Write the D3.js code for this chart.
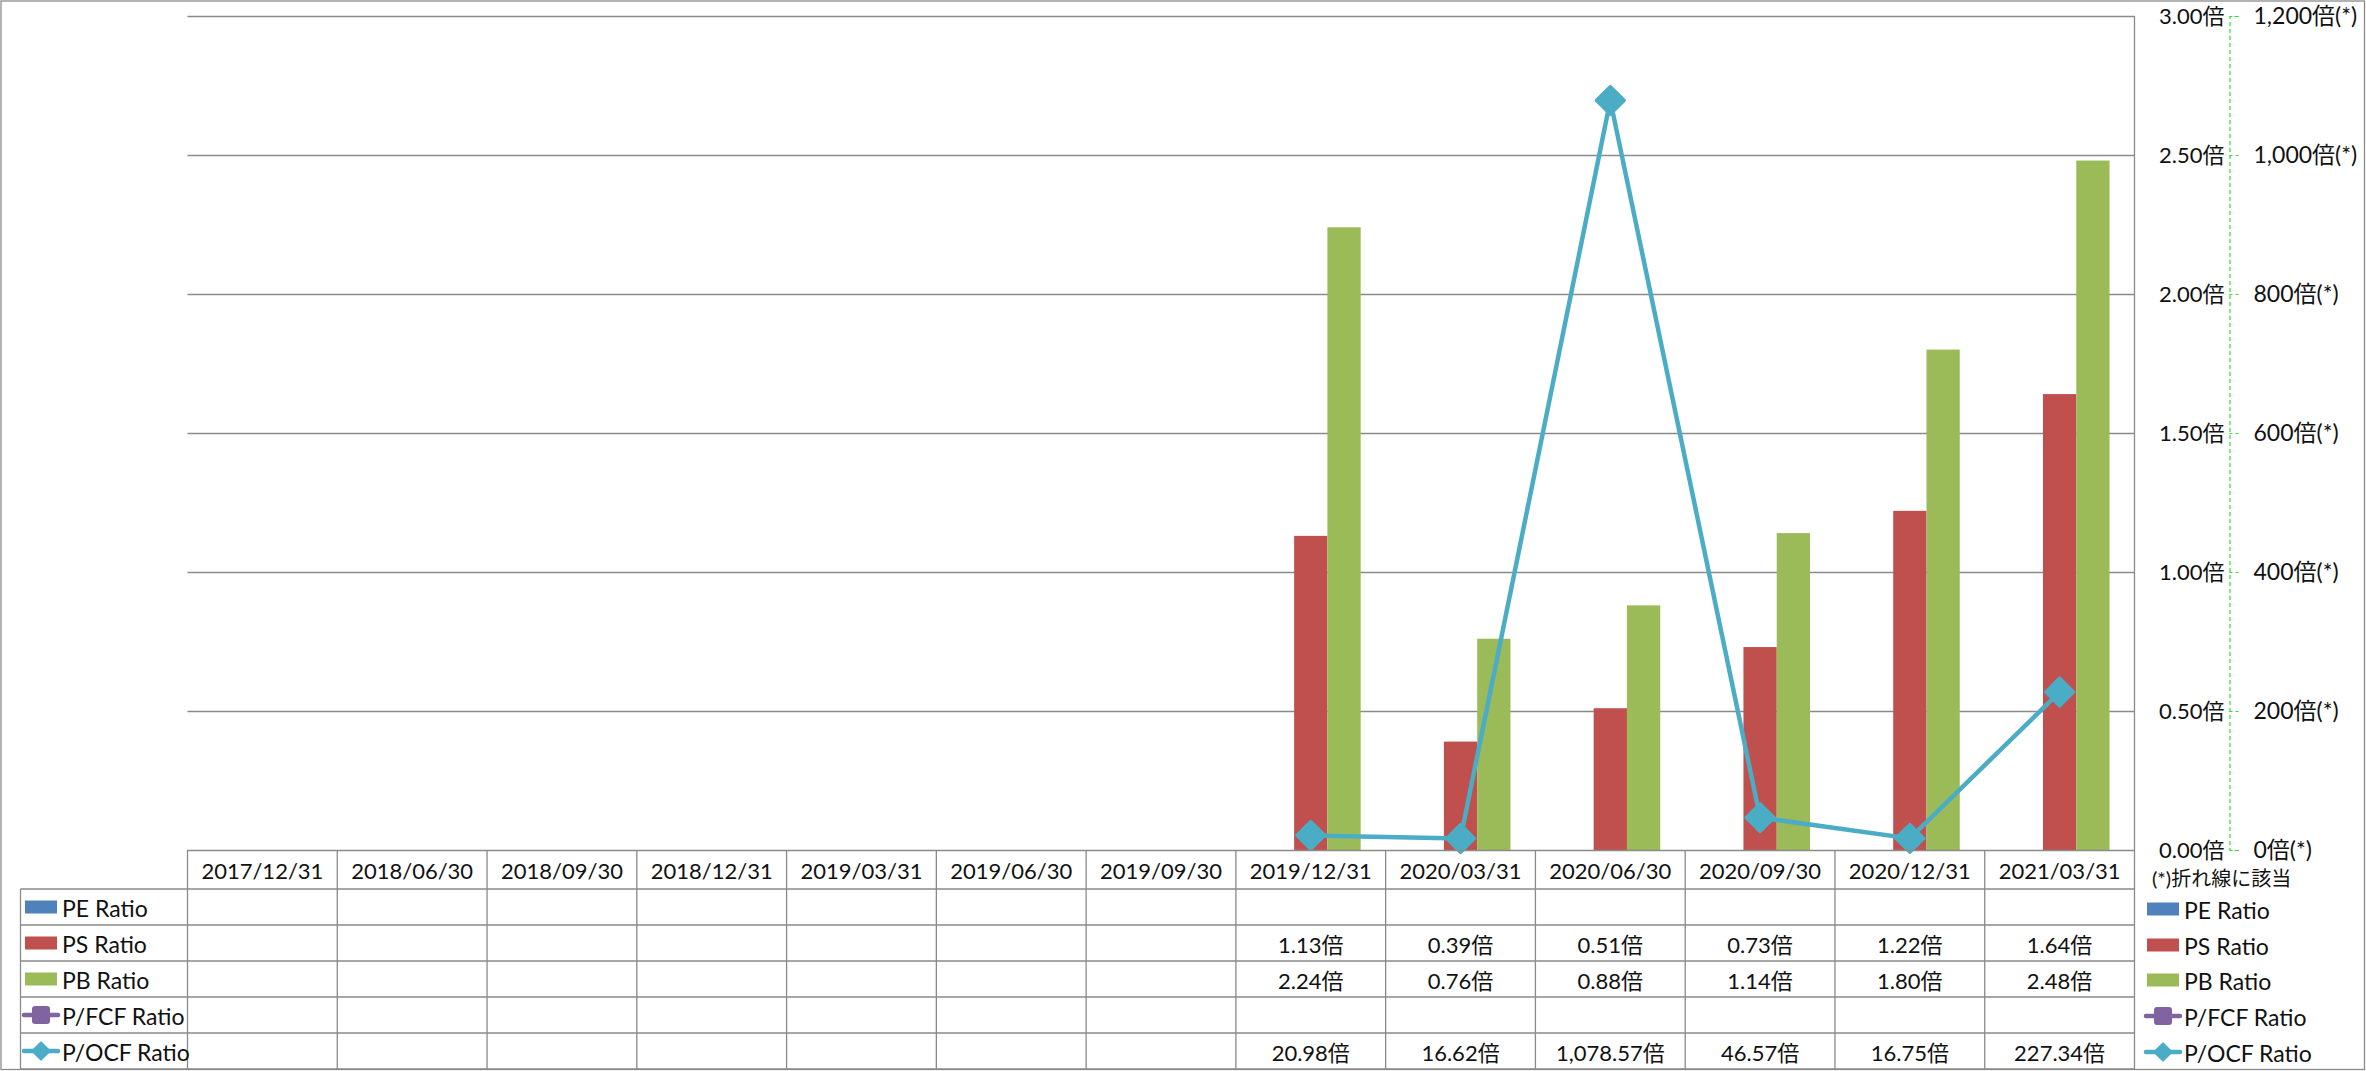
<!DOCTYPE html>
<html>
<head>
<meta charset="utf-8">
<script src="https://cdn.jsdelivr.net/npm/d3@7"></script>
<style>
  html, body { margin: 0; padding: 0; background: #fff; }
  svg { display: block; }
  text { font-family: Lato, "Noto Sans CJK JP", sans-serif; fill: #111; }
</style>
</head>
<body>
<svg id="chart" width="2366" height="1071"></svg>
<script>
// ---- data ----
const categories = ["2017/12/31","2018/06/30","2018/09/30","2018/12/31","2019/03/31","2019/06/30","2019/09/30","2019/12/31","2020/03/31","2020/06/30","2020/09/30","2020/12/31","2021/03/31"];
const peRatio   = [null,null,null,null,null,null,null,null,null,null,null,null,null];
const psRatio   = [null,null,null,null,null,null,null,1.13,0.39,0.51,0.73,1.22,1.64];
const pbRatio   = [null,null,null,null,null,null,null,2.24,0.76,0.88,1.14,1.80,2.48];
const pfcfRatio = [null,null,null,null,null,null,null,null,null,null,null,null,null];
const pocfRatio = [null,null,null,null,null,null,null,20.98,16.62,1078.57,46.57,16.75,227.34];
const leftTicks  = [0,0.5,1,1.5,2,2.5,3];
const rightTicks = [0,200,400,600,800,1000,1200];
const seriesNames = ["PE Ratio","PS Ratio","PB Ratio","P/FCF Ratio","P/OCF Ratio"];
const footnote = "(*)折れ線に該当";

// ---- layout ----
const W = 2366, H = 1071;
const plot = { left: 187.5, right: 2134.5, top: 16, bottom: 850 };
const rowH = 36;
const headerBottom = 889;
const legendColLeft = 20.5;
const colors = { pe: "#4F81BD", ps: "#C0504D", pb: "#9BBB59", pfcf: "#8064A2", pocf: "#4BACC6" };
const gridColor = "#8a8a8a";

const svg = d3.select("#chart");

// outer border
svg.append("rect").attr("x", 1).attr("y", 1).attr("width", W - 2.5).attr("height", H - 2.5)
  .attr("fill", "none").attr("stroke", gridColor).attr("stroke-width", 1.3);

const x = d3.scaleBand().domain(categories).range([plot.left, plot.right]).paddingInner(0).paddingOuter(0);
const xs = d3.scaleBand().domain(["pe","ps","pb"]).range([0, x.bandwidth()]).paddingInner(0).paddingOuter(0.75);
const yL = d3.scaleLinear().domain([0, 3]).range([plot.bottom, plot.top]);
const yR = d3.scaleLinear().domain([0, 1200]).range([plot.bottom, plot.top]);

// gridlines
svg.append("g").selectAll("line").data(leftTicks.filter(d => d > 0)).join("line")
  .attr("x1", plot.left).attr("x2", plot.right)
  .attr("y1", d => Math.round(yL(d)) + 0.5).attr("y2", d => Math.round(yL(d)) + 0.5)
  .attr("stroke", gridColor).attr("stroke-width", 1.3);
// right plot border
svg.append("line").attr("x1", plot.right).attr("x2", plot.right).attr("y1", plot.top).attr("y2", plot.bottom)
  .attr("stroke", gridColor).attr("stroke-width", 1.3);

// bars
const barSeries = [
  { key: "pe", values: peRatio },
  { key: "ps", values: psRatio },
  { key: "pb", values: pbRatio }
];
barSeries.forEach(s => {
  svg.append("g").selectAll("rect")
    .data(categories.map((c, i) => ({ c, v: s.values[i] })).filter(d => d.v != null))
    .join("rect")
    .attr("x", d => x(d.c) + xs(s.key))
    .attr("width", xs.bandwidth())
    .attr("y", d => yL(d.v))
    .attr("height", d => yL(0) - yL(d.v))
    .attr("fill", colors[s.key]);
});

// line (secondary axis)
const lineData = categories.map((c, i) => ({ c, v: pocfRatio[i] }));
const line = d3.line().defined(d => d.v != null)
  .x(d => x(d.c) + x.bandwidth() / 2).y(d => yR(d.v));
svg.append("path").datum(lineData).attr("d", line)
  .attr("fill", "none").attr("stroke", colors.pocf).attr("stroke-width", 4.5)
  .attr("stroke-linejoin", "round").attr("stroke-linecap", "round");
const diamond = d3.symbol().type(d3.symbolSquare).size(400);
svg.append("g").selectAll("path").data(lineData.filter(d => d.v != null)).join("path")
  .attr("d", diamond)
  .attr("transform", d => `translate(${x(d.c) + x.bandwidth() / 2},${yR(d.v)}) rotate(45)`)
  .attr("fill", colors.pocf).attr("stroke", colors.pocf).attr("stroke-width", 3).attr("stroke-linejoin", "round");

// axes at right
const axisX = 2229.5;
const gL = svg.append("g").attr("transform", `translate(${axisX},0)`)
  .call(d3.axisLeft(yL).tickValues(leftTicks).tickSize(0).tickPadding(5).tickFormat(d => d3.format(".2f")(d) + "倍"));
gL.select(".domain").remove();
gL.selectAll("text").style("font-size", "22px").attr("fill", "#111").attr("font-family", null);

const gR = svg.append("g").attr("transform", `translate(${axisX},0)`)
  .call(d3.axisRight(yR).tickValues(rightTicks).tickSize(9).tickPadding(15).tickFormat(d => d3.format(",")(d) + "倍(*)"));
gR.select(".domain").attr("stroke", "#33dd33").attr("stroke-dasharray", "4,3").attr("stroke-width", 1.2);
gR.selectAll(".tick line").attr("stroke", "#33dd33").attr("stroke-dasharray", "3,3").attr("stroke-width", 1.2);
gR.selectAll("text").style("font-size", "23px").attr("fill", "#111").attr("font-family", null);

// footnote
svg.append("text").attr("x", 2152).attr("y", 878).attr("dominant-baseline", "central")
  .style("font-size", "20px").text(footnote);

// ---- data table ----
const tableBottom = headerBottom + rowH * 5;
const tbl = svg.append("g");
const colEdges = categories.map(c => x(c)).concat([plot.right]);
tbl.selectAll("line.v").data(colEdges).join("line")
  .attr("x1", d => d).attr("x2", d => d).attr("y1", plot.bottom).attr("y2", tableBottom)
  .attr("stroke", gridColor).attr("stroke-width", 1.3);
tbl.append("line").attr("x1", legendColLeft).attr("x2", legendColLeft).attr("y1", headerBottom).attr("y2", tableBottom)
  .attr("stroke", gridColor).attr("stroke-width", 1.3);
tbl.append("line").attr("x1", plot.left).attr("x2", plot.right).attr("y1", plot.bottom + 0.5).attr("y2", plot.bottom + 0.5)
  .attr("stroke", gridColor).attr("stroke-width", 1.3);
const rowEdges = d3.range(6).map(i => headerBottom + i * rowH);
tbl.selectAll("line.h").data(rowEdges).join("line")
  .attr("x1", legendColLeft).attr("x2", plot.right).attr("y1", d => d).attr("y2", d => d)
  .attr("stroke", gridColor).attr("stroke-width", 1.3);

// header labels
tbl.selectAll("text.cat").data(categories).join("text")
  .attr("x", d => x(d) + x.bandwidth() / 2).attr("y", (plot.bottom + headerBottom) / 2 + 1)
  .attr("text-anchor", "middle").attr("dominant-baseline", "central")
  .style("font-size", "22px").text(d => d);

// row values
const tableRows = [peRatio, psRatio, pbRatio, pfcfRatio, pocfRatio];
const rowFormats = [d3.format(".2f"), d3.format(".2f"), d3.format(".2f"), d3.format(",.2f"), d3.format(",.2f")];
tableRows.forEach((vals, r) => {
  const cy = headerBottom + rowH * r + rowH / 2 + 1;
  tbl.append("g").selectAll("text").data(categories.map((c, i) => ({ c, v: vals[i] })).filter(d => d.v != null))
    .join("text")
    .attr("x", d => x(d.c) + x.bandwidth() / 2).attr("y", cy)
    .attr("text-anchor", "middle").attr("dominant-baseline", "central")
    .style("font-size", "22px").text(d => rowFormats[r](d.v) + "倍");
});

// legend keys
const keyColors = [colors.pe, colors.ps, colors.pb, colors.pfcf, colors.pocf];
function drawKey(g, kx, cy, i) {
  if (i < 3) {
    g.append("rect").attr("x", kx).attr("y", cy - 6.5).attr("width", 32).attr("height", 13).attr("fill", keyColors[i]);
  } else {
    g.append("line").attr("x1", kx - 1).attr("x2", kx + 33).attr("y1", cy).attr("y2", cy)
      .attr("stroke", keyColors[i]).attr("stroke-width", 4.5).attr("stroke-linecap", "round");
    if (i === 3) {
      g.append("rect").attr("x", kx + 7).attr("y", cy - 9).attr("width", 18).attr("height", 18)
        .attr("rx", 3).attr("fill", keyColors[i]);
    } else {
      g.append("path").attr("d", d3.symbol().type(d3.symbolSquare).size(150)())
        .attr("transform", `translate(${kx + 16},${cy}) rotate(45)`)
        .attr("fill", keyColors[i]).attr("stroke", keyColors[i]).attr("stroke-width", 2).attr("stroke-linejoin", "round");
    }
  }
}
seriesNames.forEach((name, i) => {
  const cy = headerBottom + rowH * i + rowH / 2;
  drawKey(tbl, 25, cy, i);
  tbl.append("text").attr("x", 62).attr("y", cy + 1).attr("dominant-baseline", "central")
    .style("font-size", "23px").text(name);
});

// right legend
const lg = svg.append("g");
const legendYs = [909, 945, 980, 1016, 1052];
seriesNames.forEach((name, i) => {
  drawKey(lg, 2147, legendYs[i], i);
  lg.append("text").attr("x", 2184).attr("y", legendYs[i] + 1).attr("dominant-baseline", "central")
    .style("font-size", "23px").text(name);
});
</script>
</body>
</html>
